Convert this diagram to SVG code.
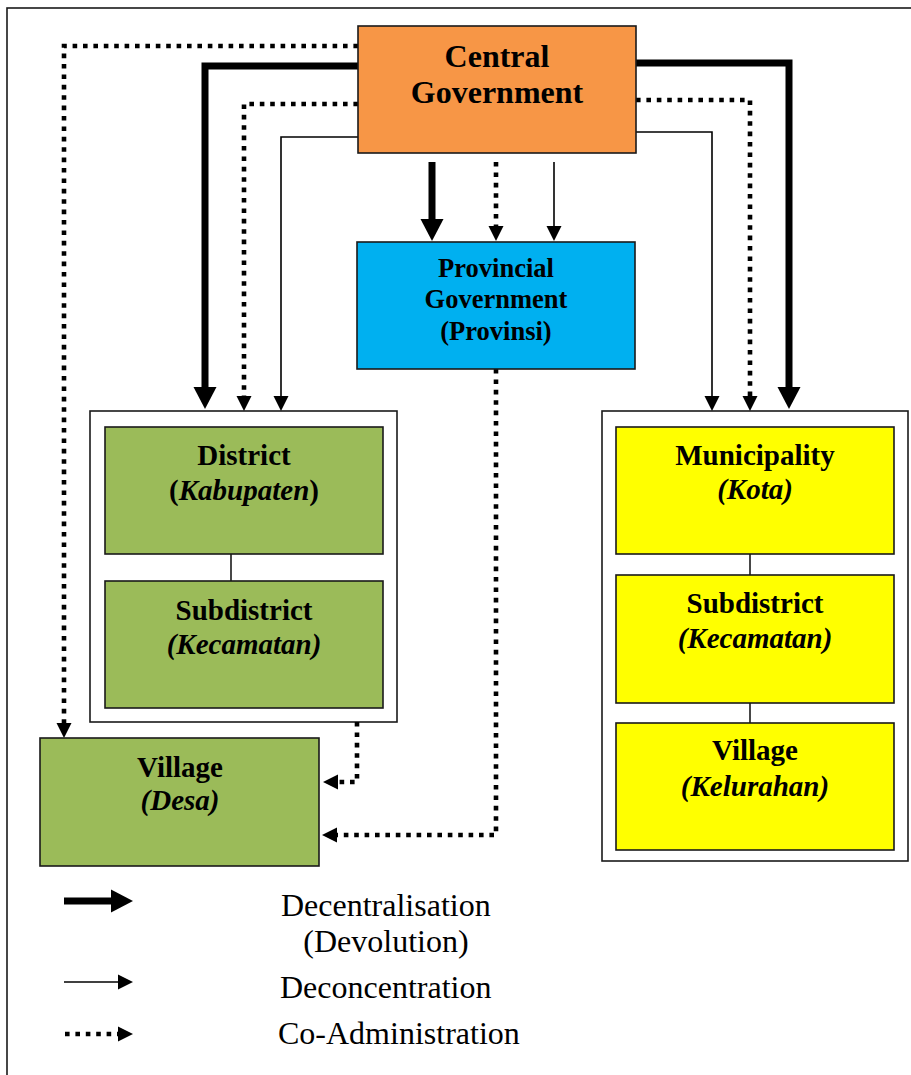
<svg xmlns="http://www.w3.org/2000/svg" width="911" height="1075" viewBox="0 0 911 1075">
  <style>
    .box { stroke: #1a1a1a; stroke-width: 1.6; }
    .frame { fill: #ffffff; stroke: #1a1a1a; stroke-width: 1.6; }
    .thick { fill: none; stroke: #000; stroke-width: 7; }
    .thin { fill: none; stroke: #000; stroke-width: 1.6; }
    .dot { fill: none; stroke: #000; stroke-width: 4.6; stroke-dasharray: 4.6 5.8; }
    .link { fill: none; stroke: #1a1a1a; stroke-width: 1.6; }
    .lbl { font-family: "Liberation Serif", "Times New Roman", serif; font-weight: bold; fill: #000; text-anchor: middle; }
    .it { font-style: italic; }
    .leg { font-family: "Liberation Serif", "Times New Roman", serif; font-size: 32px; fill: #000; }
  </style>
  <defs>
    <marker id="headBig" markerUnits="userSpaceOnUse" markerWidth="23" markerHeight="24" refX="0" refY="11.5" orient="auto" overflow="visible">
      <path d="M0,0 L22,11.5 L0,23 Z" fill="#000"/>
    </marker>
    <marker id="headSmall" markerUnits="userSpaceOnUse" markerWidth="16" markerHeight="16" refX="0" refY="7.5" orient="auto" overflow="visible">
      <path d="M0,0 L15,7.5 L0,15 Z" fill="#000"/>
    </marker>
  </defs>

  <rect width="911" height="1075" fill="#ffffff"/>
  <!-- outer page frame -->
  <rect x="7" y="8" width="930" height="1100" fill="none" stroke="#1a1a1a" stroke-width="1.6"/>

  <!-- containers for local government tiers -->
  <rect id="kabupaten-group" class="frame" x="90" y="411" width="307" height="311"/>
  <rect id="kota-group" class="frame" x="602" y="411" width="306" height="450"/>

  <!-- connectors -->
  <g id="connectors">
    <!-- left branch: Central -> District / Village -->
    <path class="dot" d="M358,46 H64 V723" marker-end="url(#headSmall)"/>
    <path class="thick" d="M358,66 H205 V387" marker-end="url(#headBig)"/>
    <path class="dot" d="M358,104 H244 V396" marker-end="url(#headSmall)"/>
    <path class="thin" d="M358,137 H281 V396" marker-end="url(#headSmall)"/>
    <!-- right branch: Central -> Municipality -->
    <path class="thick" d="M636,63 H789 V387" marker-end="url(#headBig)"/>
    <path class="dot" d="M636,100 H750 V396" marker-end="url(#headSmall)"/>
    <path class="thin" d="M636,132 H712 V396" marker-end="url(#headSmall)"/>
    <!-- Central -> Provincial -->
    <path class="thick" d="M432,162 V219" marker-end="url(#headBig)"/>
    <path class="dot" d="M496,162 V226" marker-end="url(#headSmall)"/>
    <path class="thin" d="M554,162 V226" marker-end="url(#headSmall)"/>
    <!-- co-administration into Village (Desa) -->
    <path class="dot" d="M357,722 V782 H338" marker-end="url(#headSmall)"/>
    <path class="dot" d="M496,369 V835 H337" marker-end="url(#headSmall)"/>
    <!-- tier links -->
    <path class="link" d="M231,554 V581"/>
    <path class="link" d="M750,554 V575"/>
    <path class="link" d="M750,703 V723"/>
  </g>

  <g id="central">
    <rect class="box" x="358" y="26" width="278" height="127" fill="#F79646"/>
    <text class="lbl" x="497" y="67" font-size="32">Central</text>
    <text class="lbl" x="497" y="103" font-size="32">Government</text>
  </g>

  <g id="provincial">
    <rect class="box" x="357" y="242" width="278" height="127" fill="#00B0F0"/>
    <text class="lbl" x="496" y="277" font-size="26.5">Provincial</text>
    <text class="lbl" x="496" y="308" font-size="26.5">Government</text>
    <text class="lbl" x="496" y="340" font-size="26.5">(Provinsi)</text>
  </g>

  <g id="district">
    <rect class="box" x="105" y="427" width="278" height="127" fill="#9BBB59"/>
    <text class="lbl" x="244" y="465" font-size="29">District</text>
    <text class="lbl" x="244" y="500" font-size="29">(<tspan class="it">Kabupaten</tspan>)</text>
  </g>

  <g id="subdistrict-left">
    <rect class="box" x="105" y="581" width="278" height="127" fill="#9BBB59"/>
    <text class="lbl" x="244" y="620" font-size="29">Subdistrict</text>
    <text class="lbl it" x="244" y="654" font-size="29">(Kecamatan)</text>
  </g>

  <g id="village-desa">
    <rect class="box" x="40" y="738" width="279" height="128" fill="#9BBB59"/>
    <text class="lbl" x="180" y="777" font-size="29">Village</text>
    <text class="lbl it" x="180" y="810" font-size="29">(Desa)</text>
  </g>

  <g id="municipality">
    <rect class="box" x="616" y="427" width="278" height="127" fill="#FFFF00"/>
    <text class="lbl" x="755" y="465" font-size="29">Municipality</text>
    <text class="lbl it" x="755" y="499" font-size="29">(Kota)</text>
  </g>

  <g id="subdistrict-right">
    <rect class="box" x="616" y="575" width="278" height="128" fill="#FFFF00"/>
    <text class="lbl" x="755" y="613" font-size="29">Subdistrict</text>
    <text class="lbl it" x="755" y="648" font-size="29">(Kecamatan)</text>
  </g>

  <g id="village-kelurahan">
    <rect class="box" x="616" y="723" width="278" height="127" fill="#FFFF00"/>
    <text class="lbl" x="755" y="760" font-size="29">Village</text>
    <text class="lbl it" x="755" y="796" font-size="29">(Kelurahan)</text>
  </g>

  <!-- legend -->
  <g id="legend">
    <path class="thick" d="M64,901 H111" marker-end="url(#headBig)"/>
    <path class="thin" d="M64,982 H118" marker-end="url(#headSmall)"/>
    <path class="dot" d="M65,1034 H118" marker-end="url(#headSmall)"/>
    <text class="leg" x="281" y="916">Decentralisation</text>
    <text class="leg" x="386" y="952" text-anchor="middle">(Devolution)</text>
    <text class="leg" x="280" y="998">Deconcentration</text>
    <text class="leg" x="278" y="1044">Co-Administration</text>
  </g>
</svg>
